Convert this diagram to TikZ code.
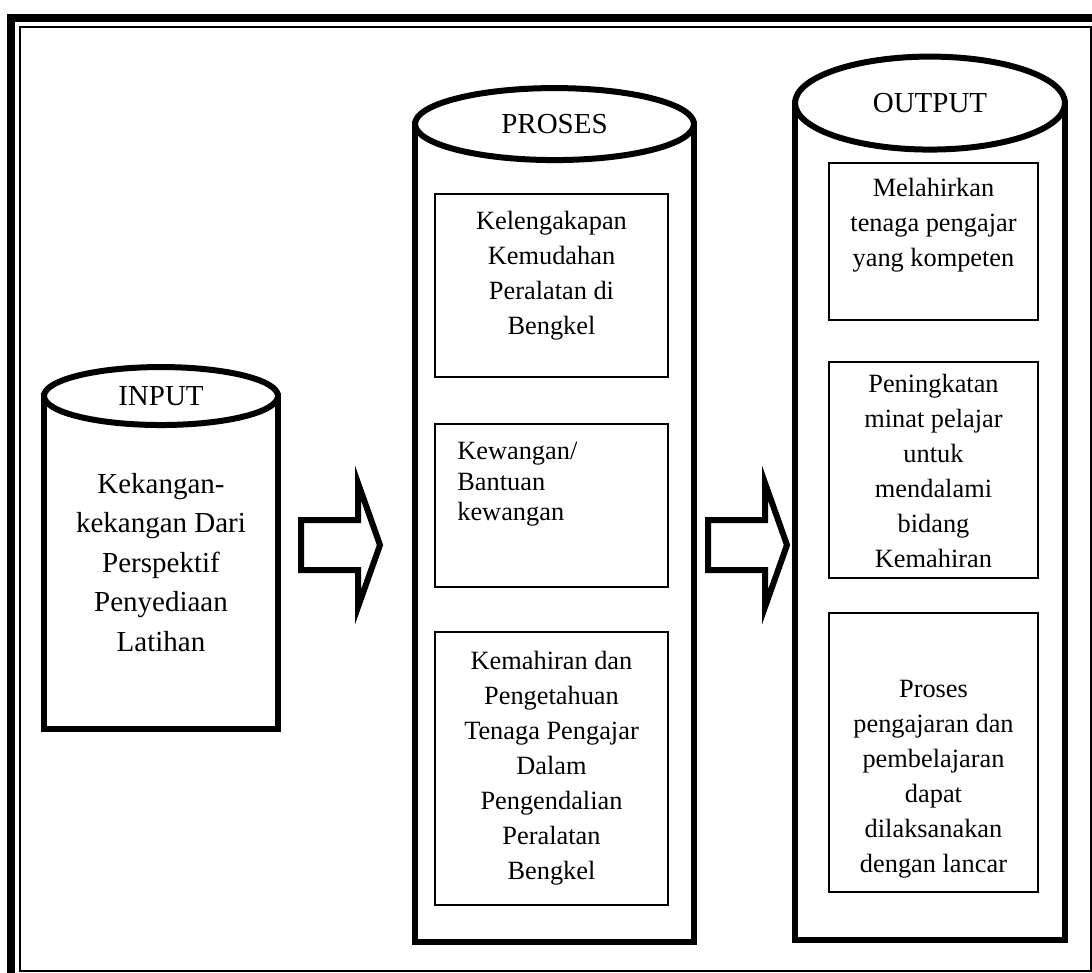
\documentclass[tikz,border=0pt]{standalone}
\usepackage{fontspec}
\setmainfont{Liberation Serif}
\usepackage{tikz}
\usetikzlibrary{shapes.geometric}
\tikzset{
  frameout/.style={ draw, line width=1.54mm }
}
\tikzset{
  framein/.style={ draw, line width=0.4mm }
}
\tikzset{
  drum/.style={ draw, rectangle, line width=1.2mm, inner sep=0pt, outer sep=0pt }
}
\tikzset{
  lid/.style={ draw, ellipse, fill=white, line width=1.2mm, inner sep=0pt, outer sep=0pt, font=\fontsize{16.5}{20}\selectfont }
}
\tikzset{
  item/.style={ draw, rectangle, line width=0.5mm, inner sep=0pt, outer sep=0pt }
}
\tikzset{
  itemtext/.style={ inner sep=0pt, align=center, font=\fontsize{15}{19.9}\selectfont }
}
\tikzset{
  flow/.style={ draw, line width=1.2mm, line join=miter }
}

\begin{document}
\begin{tikzpicture}[x=0.02cm, y=-0.02cm]
  \clip (0,0) rectangle (1092,973);
  \draw[frameout] (11,18) rectangle (1100,981);
  \draw[framein] (20,27) rectangle (1091,971);

  % input
  \node[drum, minimum width=4.68cm, minimum height=6.66cm] (inbody) at (161,562.5) {};
  \node[lid, minimum width=4.68cm, minimum height=1.16cm] (inlid) at (inbody.north) {INPUT};
  \node[itemtext, font=\fontsize{16.5}{22.5}\selectfont] (intext) at (161,562.5) {Kekangan-\\kekangan Dari\\Perspektif\\Penyediaan\\Latihan};

  \coordinate (arr1) at (301,520);
  \draw[flow] (arr1) -- ++(57,0) -- ++(0,-37) -- ++(22,62) -- ++(-22,62) -- ++(0,-37) -- ++(-57,0) -- cycle;

  % proses
  \node[drum, minimum width=5.58cm, minimum height=16.36cm] (prbody) at (554.5,533) {};
  \node[lid, minimum width=5.58cm, minimum height=1.44cm] (prlid) at (prbody.north) {PROSES};
  \node[item, minimum width=4.66cm, minimum height=3.66cm] (pr1) at (551.5,285.5) {};
  \node[itemtext] (pr1text) at (551.5,276) {Kelengakapan\\Kemudahan\\Peralatan di\\Bengkel};
  \node[item, minimum width=4.66cm, minimum height=3.26cm] (pr2) at (551.5,505.5) {};
  \node[itemtext, align=left, anchor=north west, font=\fontsize{15}{17.3}\selectfont] (pr2text) at (457,442) {Kewangan/\\Bantuan\\kewangan};
  \node[item, minimum width=4.66cm, minimum height=5.46cm] (pr3) at (551.5,768.5) {};
  \node[itemtext] (pr3text) at (551.5,768) {Kemahiran dan\\Pengetahuan\\Tenaga Pengajar\\Dalam\\Pengendalian\\Peralatan\\Bengkel};

  \coordinate (arr2) at (708,520);
  \draw[flow] (arr2) -- ++(57,0) -- ++(0,-37) -- ++(22,62) -- ++(-22,62) -- ++(0,-37) -- ++(-57,0) -- cycle;

  % output
  \node[drum, minimum width=5.4cm, minimum height=16.74cm] (outbody) at (930,521.5) {};
  \node[lid, minimum width=5.4cm, minimum height=1.86cm] (outlid) at (outbody.north) {OUTPUT};
  \node[item, minimum width=4.18cm, minimum height=3.14cm] (out1) at (933.5,241.5) {};
  \node[itemtext] (out1text) at (933.5,225.5) {Melahirkan\\tenaga pengajar\\yang kompeten};
  \node[item, minimum width=4.18cm, minimum height=4.32cm] (out2) at (933.5,470) {};
  \node[itemtext] (out2text) at (933.5,471) {Peningkatan\\minat pelajar\\untuk\\mendalami\\bidang\\Kemahiran};
  \node[item, minimum width=4.18cm, minimum height=5.58cm] (out3) at (933.5,752.5) {};
  \node[itemtext] (out3text) at (933.5,779) {Proses\\pengajaran dan\\pembelajaran\\dapat\\dilaksanakan\\dengan lancar};
\end{tikzpicture}
\end{document}
